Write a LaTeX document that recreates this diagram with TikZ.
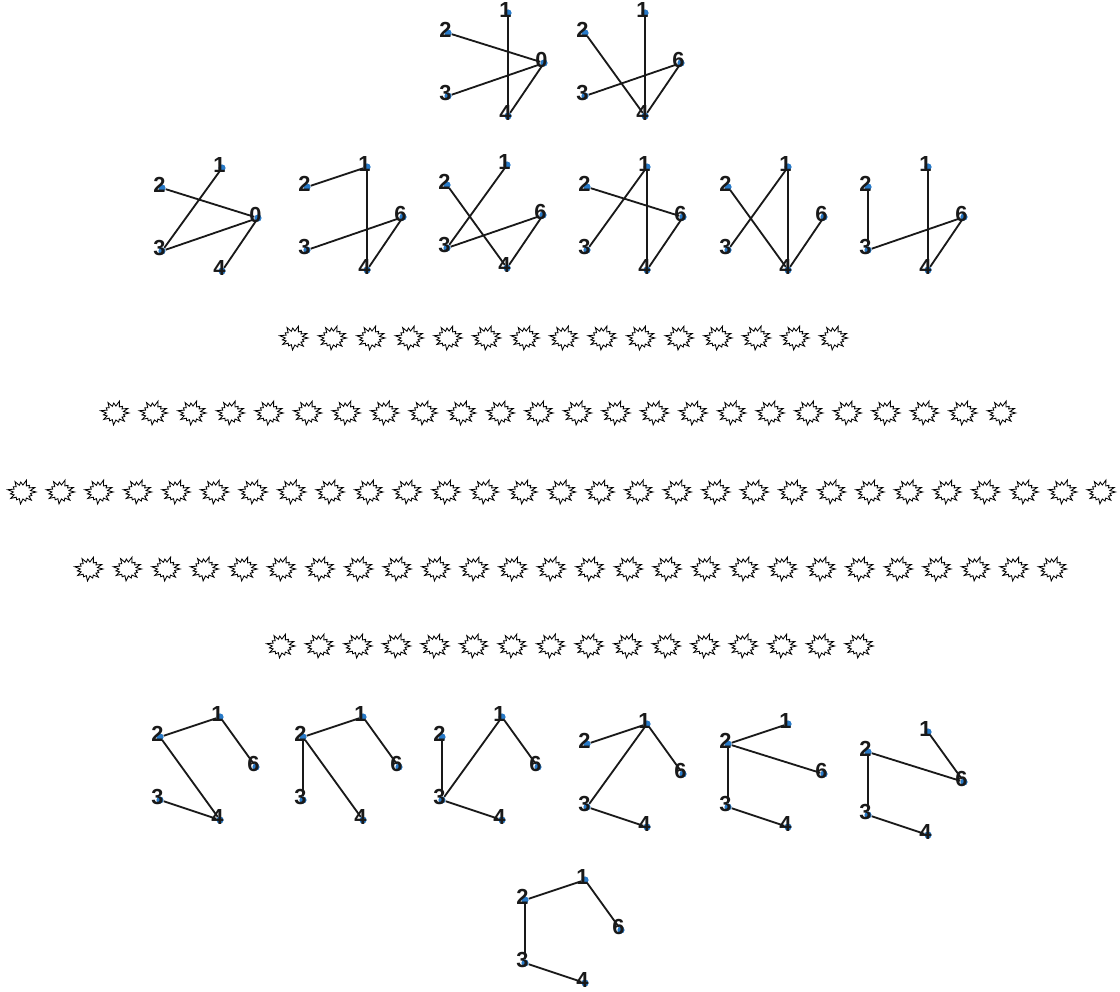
\documentclass[tikz,border=0pt]{standalone}
\usepackage{fontspec}
\setmainfont{Liberation Sans}
\usetikzlibrary{backgrounds}
\definecolor{dotblue}{RGB}{40,122,200}

% one small graph: vertex 1 at (#2,#3), #4 is the label of the right vertex
\newcommand\ngraph[4]{%
  \begin{scope}[shift={(#2,#3)}]
  \node[vtx, label={[dig]center:1}] (#1-1) at (0,0) {};
  \node[vtx, label={[dig]center:2}] (#1-2) at (-60,20) {};
  \node[vtx, label={[dig]center:#4}] (#1-r) at (36,50) {};
  \node[vtx, label={[dig]center:3}] (#1-3) at (-60,83) {};
  \node[vtx, label={[dig]center:4}] (#1-4) at (0,103) {};
  \end{scope}}

\tikzset{boom/.pic={
  \draw[line width=0.6pt, line join=miter, xscale=1.08]
    (0:13 and 11) -- (12:8 and 7) -- (24:10 and 8.5) -- (36:8 and 7) -- (48:13 and 11)
    -- (60:8 and 7) -- (72:11 and 9.5) -- (84:8 and 7) -- (96:13.5 and 12) -- (108:8 and 7)
    -- (120:10 and 9) -- (132:8 and 7) -- (144:13 and 11) -- (156:8 and 7) -- (168:11 and 9)
    -- (180:8 and 7) -- (192:13.5 and 11) -- (204:8 and 7) -- (216:10 and 9) -- (228:8 and 7)
    -- (240:13 and 12) -- (252:8 and 7) -- (264:11 and 10) -- (276:8 and 7) -- (288:13.5 and 12.5)
    -- (300:8 and 7) -- (312:10.5 and 9) -- (324:8 and 7) -- (336:13 and 11) -- (348:8 and 7) -- cycle;
}}

\begin{document}
\begin{tikzpicture}[x=0.025cm, y=-0.025cm]
\tikzstyle{vtx}=[circle, fill=dotblue, inner sep=0, minimum size=0.18cm]
\tikzstyle{dig}=[font=\fontsize{15.5}{15.5}\selectfont\bfseries, text=black!90, inner sep=0, xshift=-1.8pt, yshift=2pt]
\tikzstyle{link}=[line width=1.3pt, black!90]
\useasboundingbox (0,0) rectangle (1120,992);

% top rows
\ngraph{a}{508}{13}{0}
\ngraph{b}{645}{13}{6}
\ngraph{c}{222}{168}{0}
\ngraph{d}{367}{167}{6}
\ngraph{e}{507}{165}{6}
\ngraph{f}{647}{167}{6}
\ngraph{g}{788}{167}{6}
\ngraph{h}{928}{167}{6}
% bottom rows
\ngraph{i}{220}{717}{6}
\ngraph{j}{363}{717}{6}
\ngraph{k}{502}{717}{6}
\ngraph{l}{647}{724}{6}
\ngraph{m}{788}{724}{6}
\ngraph{n}{928}{732}{6}
\ngraph{o}{585}{880}{6}

\begin{scope}[on background layer]
\draw[link] (a-1) -- (a-4) (a-2) -- (a-r) (a-3) -- (a-r) (a-r) -- (a-4);
\draw[link] (b-1) -- (b-4) (b-2) -- (b-4) (b-3) -- (b-r) (b-r) -- (b-4);
\draw[link] (c-1) -- (c-3) (c-2) -- (c-r) (c-3) -- (c-r) (c-r) -- (c-4);
\draw[link] (d-2) -- (d-1) (d-1) -- (d-4) (d-3) -- (d-r) (d-r) -- (d-4);
\draw[link] (e-1) -- (e-3) (e-2) -- (e-4) (e-3) -- (e-r) (e-r) -- (e-4);
\draw[link] (f-1) -- (f-3) (f-2) -- (f-r) (f-1) -- (f-4) (f-r) -- (f-4);
\draw[link] (g-3) -- (g-1) (g-2) -- (g-4) (g-1) -- (g-4) (g-r) -- (g-4);
\draw[link] (h-2) -- (h-3) (h-1) -- (h-4) (h-3) -- (h-r) (h-r) -- (h-4);
\draw[link] (i-2) -- (i-1) (i-1) -- (i-r) (i-2) -- (i-4) (i-3) -- (i-4);
\draw[link] (j-2) -- (j-1) (j-1) -- (j-r) (j-2) -- (j-3) (j-2) -- (j-4);
\draw[link] (k-2) -- (k-3) (k-3) -- (k-1) (k-1) -- (k-r) (k-3) -- (k-4);
\draw[link] (l-2) -- (l-1) (l-1) -- (l-3) (l-1) -- (l-r) (l-3) -- (l-4);
\draw[link] (m-2) -- (m-1) (m-2) -- (m-r) (m-2) -- (m-3) (m-3) -- (m-4);
\draw[link] (n-1) -- (n-r) (n-2) -- (n-r) (n-2) -- (n-3) (n-3) -- (n-4);
\draw[link] (o-2) -- (o-1) (o-1) -- (o-r) (o-2) -- (o-3) (o-3) -- (o-4);
\end{scope}

% rows of bursts
\foreach \yy/\xx/\nn [count=\rr] in {338/294/15, 413/115/24, 492/22/29, 569/89/26, 646/281/16}
  \foreach \ii in {1,...,\nn}
    \pic (s\rr-\ii) at ({\xx+(\ii-1)*38.55},\yy) {boom};
\end{tikzpicture}
\end{document}
